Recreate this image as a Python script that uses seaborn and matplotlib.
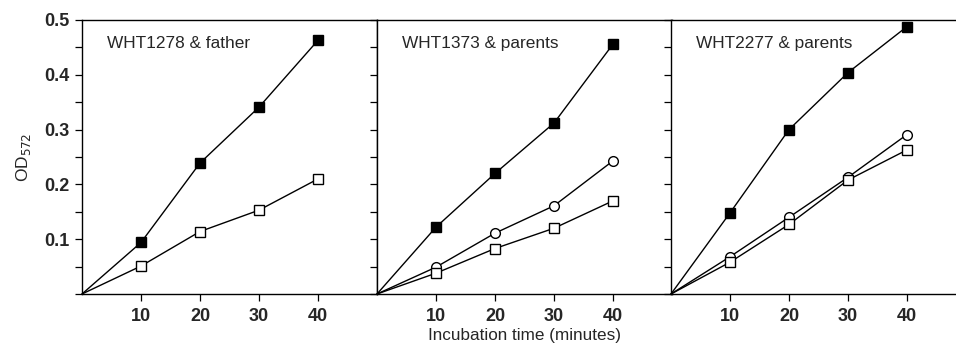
import pandas as pd
import matplotlib.pyplot as plt
import seaborn as sns
from matplotlib.ticker import MultipleLocator

# incubation times (minutes); 0 is the common starting point
time = [0, 10, 20, 30, 40]

# panel labels
panels = ['WHT1278 & father', 'WHT1373 & parents', 'WHT2277 & parents']

# OD572 readings
p1_filled = [0, 0.094, 0.239, 0.341, 0.463]
p1_open = [0, 0.051, 0.114, 0.153, 0.210]

p2_filled = [0, 0.122, 0.220, 0.312, 0.456]
p2_circle = [0, 0.049, 0.111, 0.161, 0.243]
p2_open = [0, 0.038, 0.083, 0.120, 0.170]

p3_filled = [0, 0.148, 0.300, 0.404, 0.488]
p3_circle = [0, 0.068, 0.140, 0.213, 0.291]
p3_open = [0, 0.058, 0.127, 0.208, 0.263]

series = [
    [('filled', p1_filled), ('open', p1_open)],
    [('filled', p2_filled), ('circle', p2_circle), ('open', p2_open)],
    [('filled', p3_filled), ('circle', p3_circle), ('open', p3_open)],
]

marker_style = {
    'filled': dict(marker='s', markerfacecolor='black'),
    'open': dict(marker='s', markerfacecolor='white'),
    'circle': dict(marker='o', markerfacecolor='white'),
}

sns.set_style('ticks')
plt.rcParams['font.family'] = ['Liberation Sans', 'DejaVu Sans']

W, H = 956, 359
fig = plt.figure(figsize=(W / 100, H / 100), dpi=100)

lefts = [82, 377, 671]
bottom = 65
width = 295
height = 274

axes = []
for i, name in enumerate(panels):
    ax = fig.add_axes([lefts[i] / W, bottom / H, width / W, height / H])
    axes.append(ax)
    for kind, vals in series[i]:
        df = pd.DataFrame({'time': time, 'od': vals})
        sns.lineplot(data=df, x='time', y='od', ax=ax, color='black',
                     linewidth=1.0, markersize=7, markeredgecolor='black',
                     markeredgewidth=1.0, markevery=[1, 2, 3, 4],
                     clip_on=False, zorder=3, **marker_style[kind])
    ax.set_xlim(0, 50)
    ax.set_ylim(0, 0.5)
    ax.set_xticks([10, 20, 30, 40])
    ax.yaxis.set_major_locator(MultipleLocator(0.1))
    ax.yaxis.set_minor_locator(MultipleLocator(0.05))
    ax.tick_params(axis='both', which='both', direction='out', length=5,
                   width=0.9, color='black')
    ax.tick_params(axis='x', labelsize=13, pad=5)
    ax.tick_params(axis='y', labelsize=13, pad=4)
    for sp in ax.spines.values():
        sp.set_visible(True)
        sp.set_linewidth(1.0)
        sp.set_color('black')
    ax.text(4.2, 0.457, name, fontsize=12.4, va='center', ha='left')
    ax.set_xlabel('')
    ax.set_ylabel('')
    for lab in ax.get_xticklabels():
        lab.set_fontweight('bold')
    if i == 0:
        ax.set_yticks([0.1, 0.2, 0.3, 0.4, 0.5])
        ax.set_yticklabels(['0.1', '0.2', '0.3', '0.4', '0.5'], fontweight='bold')
        ax.set_ylabel('OD$_{572}$', fontsize=12.5, labelpad=8)
    else:
        ax.set_yticklabels([])

axes[1].set_xlabel('Incubation time (minutes)', fontsize=12.3, labelpad=2)

fig.savefig('out.png', dpi=100)
